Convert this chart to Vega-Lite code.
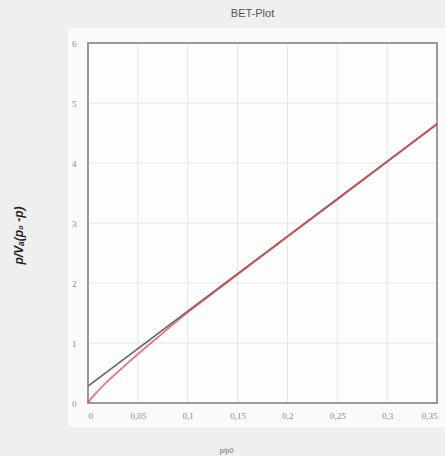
{
  "$schema": "https://vega.github.io/schema/vega-lite/v6.json",
  "width": 349,
  "height": 360,
  "autosize": {"type": "none"},
  "padding": {"left": 88, "top": 43, "right": 8, "bottom": 53},
  "background": "#efefef",
  "title": {
    "text": "BET-Plot",
    "fontSize": 11,
    "font": "Liberation Sans",
    "fontWeight": "normal",
    "color": "#555555",
    "offset": 9,
    "dx": -10
  },
  "config": {
    "view": {"stroke": null},
    "axis": {
      "domain": false,
      "ticks": false,
      "grid": false,
      "labelFont": "Liberation Serif",
      "labelFontSize": 9,
      "labelColor": "#8a8a8a"
    }
  },
  "datasets": {
    "panel": [{"x0": -0.02, "x1": 0.36, "y0": -0.4, "y1": 6.25}],
    "frame": [{"x0": 0, "x1": 0.35, "y0": 0, "y1": 6}],
    "xgrid": [{"v": 0.05}, {"v": 0.1}, {"v": 0.15}, {"v": 0.2}, {"v": 0.25}, {"v": 0.3}],
    "ygrid": [{"v": 1}, {"v": 2}, {"v": 3}, {"v": 4}, {"v": 5}],
    "lines": [
      {"series": "fit", "x": 0, "y": 0.28},
      {"series": "fit", "x": 0.35, "y": 4.65},
      {"series": "data", "x": 0, "y": 0.0},
      {"series": "data", "x": 0.002, "y": 0.05},
      {"series": "data", "x": 0.005, "y": 0.11},
      {"series": "data", "x": 0.01, "y": 0.2},
      {"series": "data", "x": 0.02, "y": 0.37},
      {"series": "data", "x": 0.03, "y": 0.52},
      {"series": "data", "x": 0.04, "y": 0.67},
      {"series": "data", "x": 0.05, "y": 0.815},
      {"series": "data", "x": 0.06, "y": 0.955},
      {"series": "data", "x": 0.07, "y": 1.095},
      {"series": "data", "x": 0.08, "y": 1.235},
      {"series": "data", "x": 0.09, "y": 1.375},
      {"series": "data", "x": 0.1, "y": 1.51},
      {"series": "data", "x": 0.15, "y": 2.14},
      {"series": "data", "x": 0.2, "y": 2.77},
      {"series": "data", "x": 0.25, "y": 3.39},
      {"series": "data", "x": 0.3, "y": 4.02},
      {"series": "data", "x": 0.35, "y": 4.65}
    ]
  },
  "layer": [
    {
      "data": {"name": "panel"},
      "mark": {"type": "rect", "fill": "#fafafa", "clip": false},
      "encoding": {
        "x": {"field": "x0", "type": "quantitative"},
        "x2": {"field": "x1"},
        "y": {"field": "y0", "type": "quantitative"},
        "y2": {"field": "y1"}
      }
    },
    {
      "data": {"name": "frame"},
      "mark": {"type": "rect", "fill": "#fdfdfd", "clip": false},
      "encoding": {
        "x": {"field": "x0", "type": "quantitative"},
        "x2": {"field": "x1"},
        "y": {"field": "y0", "type": "quantitative"},
        "y2": {"field": "y1"}
      }
    },
    {
      "data": {"name": "xgrid"},
      "mark": {"type": "rule", "color": "#e6e6e6", "strokeWidth": 1},
      "encoding": {"x": {"field": "v", "type": "quantitative"}}
    },
    {
      "data": {"name": "ygrid"},
      "mark": {"type": "rule", "color": "#e6e6e6", "strokeWidth": 1},
      "encoding": {"y": {"field": "v", "type": "quantitative"}}
    },
    {
      "data": {"name": "frame"},
      "mark": {"type": "rect", "fill": null, "stroke": "#999999", "strokeWidth": 2, "clip": false},
      "encoding": {
        "x": {"field": "x0", "type": "quantitative"},
        "x2": {"field": "x1"},
        "y": {"field": "y0", "type": "quantitative"},
        "y2": {"field": "y1"}
      }
    },
    {
      "data": {"name": "lines"},
      "mark": {"type": "line", "strokeWidth": 1.6, "clip": false},
      "encoding": {
        "x": {
          "field": "x",
          "type": "quantitative",
          "scale": {"domain": [0, 0.35], "nice": false, "zero": false},
          "axis": {
            "zindex": 1,
            "values": [0, 0.05, 0.1, 0.15, 0.2, 0.25, 0.3, 0.35],
            "format": ".2~f",
            "labelExpr": "replace(datum.label, '.', ',')",
            "labelPadding": 8,
            "title": "p/p0",
            "titleFont": "Liberation Sans",
            "titleFontSize": 7,
            "titleFontWeight": "normal",
            "titleColor": "#666666",
            "titleX": 138,
            "titleY": 47,
            "titleBaseline": "middle"
          }
        },
        "y": {
          "field": "y",
          "type": "quantitative",
          "scale": {"domain": [0, 6], "nice": false},
          "axis": {
            "zindex": 1,
            "values": [0, 1, 2, 3, 4, 5, 6],
            "format": "d",
            "labelPadding": 12,
            "title": "p/Vₐ(p₀ -p)",
            "titleFont": "Liberation Sans",
            "titleFontSize": 12,
            "titleFontWeight": "bold",
            "titleFontStyle": "italic",
            "titleColor": "#222222",
            "titleX": -70,
            "titleY": 192,
            "titleAngle": -90,
            "titleBaseline": "middle",
            "titleAlign": "center"
          }
        },
        "color": {
          "field": "series",
          "type": "nominal",
          "scale": {"domain": ["fit", "data"], "range": ["#5e6762", "#e8424d"]},
          "legend": null
        },
        "opacity": {
          "field": "series",
          "type": "nominal",
          "scale": {"domain": ["fit", "data"], "range": [1, 0.8]},
          "legend": null
        },
        "order": {"field": "x", "type": "quantitative"}
      }
    }
  ]
}
